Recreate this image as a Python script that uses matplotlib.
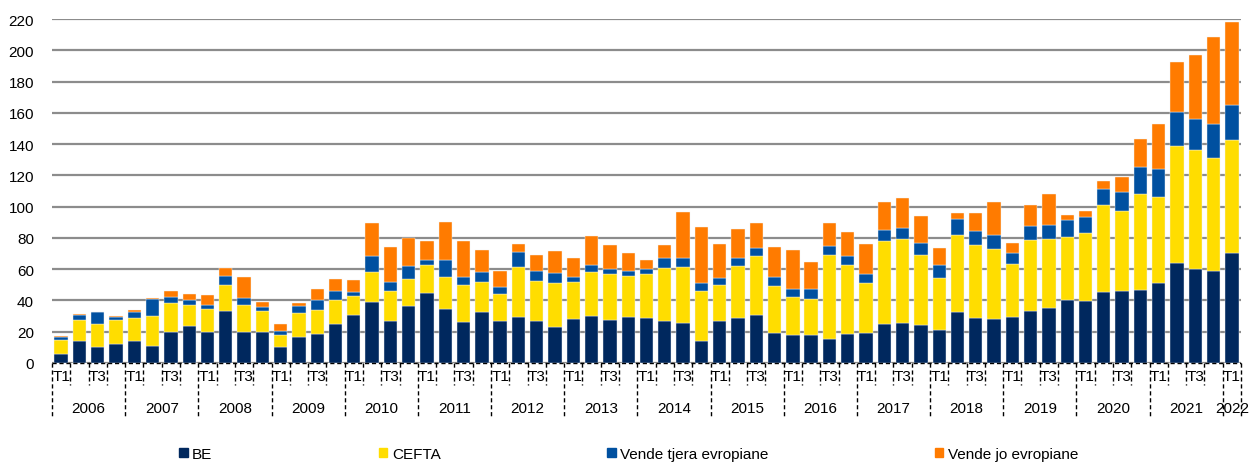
# plot.py
# Quarterly stacked bars, 2006 T1 - 2022 T1

import matplotlib.pyplot as plt
from matplotlib.patches import Rectangle
import numpy as np

plt.rcParams['font.family'] = ['Liberation Sans', 'DejaVu Sans']

years = ['2006', '2007', '2008', '2009', '2010', '2011', '2012', '2013',
         '2014', '2015', '2016', '2017', '2018', '2019', '2020', '2021', '2022']
quarter_labels = ['T1', '', 'T3', '']

be = [6, 14, 10, 12.2, 14.1, 10.9, 19.8, 23.7, 20, 33.3, 19.8, 19.8,
      10.2, 16.8, 18.8, 24.9, 30.7, 39.2, 27.1, 36.7, 44.8, 34.5, 26.4, 32.8,
      26.7, 29.6, 27.1, 23.2, 28.4, 29.9, 27.3, 29.6, 28.6, 26.9, 25.8, 13.9,
      26.9, 28.8, 30.7, 19.2, 17.7, 17.7, 15.4, 18.8, 19.2, 25.2, 25.6, 24.1,
      21.1, 32.8, 28.6, 28.1, 29.6, 33.5, 35.0, 40.1, 39.4, 45.6, 46.3, 46.7,
      51.4, 64.0, 60.1, 59.1, 70.4]
cefta = [9, 13.5, 15, 15.3, 14.7, 19, 18.6, 13.4, 14.5, 16.4, 17.5, 13.5,
         7.7, 15.2, 15.1, 15.6, 12.2, 19, 19.2, 17.2, 17.9, 20.7, 23.5, 18.8,
         17.2, 32, 25.6, 28, 23.4, 28.1, 29.8, 26.3, 28.3, 34.1, 35.4, 32.4,
         23.2, 33.5, 37.5, 30.3, 24.3, 23.2, 53.5, 43.7, 31.8, 52.6, 53.9, 45.2,
         33.5, 48.9, 46.7, 45, 33.5, 45.2, 44.3, 40.5, 43.8, 55.3, 50.7, 61.6,
         54.6, 75, 76.1, 72, 72.2]
other_eur = [1.5, 3.5, 7.5, 2.2, 4, 10.8, 3.8, 3.4, 2.6, 6, 4.1, 2.7,
             2.6, 4.5, 6.2, 5.8, 2.7, 10.2, 5.5, 8.1, 3, 10.9, 5.1, 6.6,
             4.9, 9.6, 5.9, 6.2, 3.2, 4.7, 3.2, 3.2, 3, 6, 6.2, 5.1,
             4.5, 5.1, 5.1, 5.7, 5.5, 6.6, 5.9, 5.9, 5.9, 7.3, 7.1, 7.7,
             8.3, 10.6, 8.9, 9, 7.3, 9.1, 9, 11.1, 10.4, 10.6, 12.4, 17.3,
             18.3, 21.8, 20.1, 21.8, 22.4]
non_eur = [0.5, 0.5, 0.3, 0.3, 1, 0.7, 3.6, 3.8, 6.2, 5.3, 13.8, 2.8,
           4.4, 2.1, 7.4, 7.4, 7.3, 21.2, 22.2, 17.7, 12.3, 24.1, 23.3, 14.1,
           10.3, 4.9, 10.7, 14.2, 12, 18.5, 15, 11, 6, 8.5, 29.4, 35.6,
           21.5, 18.1, 16.3, 19.2, 24.8, 17.1, 14.8, 15.6, 19.4, 18.1, 18.7, 16.8,
           10.4, 3.4, 11.5, 20.7, 6.6, 13.3, 20, 3, 3.6, 4.9, 9.4, 17.7,
           28.6, 31.5, 40.7, 55.8, 53.1]

series = [('BE', be, '#00285e'),
          ('CEFTA', cefta, '#ffdd00'),
          ('Vende tjera evropiane', other_eur, '#0050a0'),
          ('Vende jo evropiane', non_eur, '#ff7b00')]

n = len(be)
x = np.arange(n)

fig = plt.figure(figsize=(12.5, 4.64), dpi=100)
ax = fig.add_axes([52 / 1250, 1 - 364 / 464, 1189 / 1250, 344 / 464])

bottom = np.zeros(n)
handles = []
for name, vals, col in series:
    vals = np.array(vals)
    ax.bar(x, vals, 0.73, bottom=bottom, color=col, edgecolor='#f4f4f4',
           linewidth=0.3, zorder=3)
    bottom += vals
    handles.append(Rectangle((0, 0), 1, 1, color=col, label=name))

ax.set_xlim(-0.5, n - 0.5)
ax.set_ylim(0, 220)
ax.set_yticks(range(0, 221, 20))
ax.yaxis.grid(True, color='#8c8c8c', linewidth=1.6)
ax.set_axisbelow(True)
for s in ax.spines.values():
    s.set_visible(False)
ax.tick_params(axis='y', length=0, pad=13, labelsize=11)

# quarter labels under every bar
ax.set_xticks(x)
ax.set_xticklabels([quarter_labels[i % 4] for i in x], fontsize=11)
ax.tick_params(axis='x', length=0, pad=4)

# dashed axis line and separators
ax.plot([-0.5, n - 0.5], [0, 0], color='black', lw=1, ls=(0, (3, 2)),
        clip_on=False, zorder=4)
trans = ax.get_xaxis_transform()
for b in np.arange(-0.5, n, 1.0):
    long = (b + 0.5) % 4 == 0 or b == n - 0.5
    ax.plot([b, b], [0, -0.155 if long else -0.064], color='black', lw=1,
            ls=(0, (3, 2)), transform=trans, clip_on=False)

for i, yr in enumerate(years):
    start = i * 4
    end = min(start + 3, n - 1)
    ax.text((start + end) / 2, -0.13, yr, transform=trans, ha='center',
            va='center', fontsize=11)

fig.legend(handles=handles, loc='center', bbox_to_anchor=(0.503, 0.02),
           ncol=4, frameon=False, fontsize=11, handlelength=0.55,
           handleheight=0.55, handletextpad=0.3, columnspacing=10.9)

fig.savefig('out.png', dpi=100)
